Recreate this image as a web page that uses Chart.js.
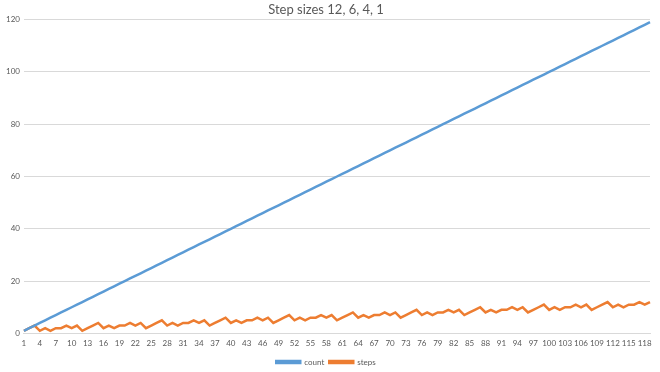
<!DOCTYPE html>
<html>
<head>
<meta charset="utf-8">
<script src="https://cdn.jsdelivr.net/npm/chart.js@4"></script>
<style>
  html, body { margin: 0; padding: 0; background: #fff; }
</style>
</head>
<body>
<canvas id="stepChart" width="660" height="372"></canvas>
<script>
// x categories (1..119)
const categories = [
  "1","2","3","4","5","6","7","8","9","10","11","12","13","14","15","16","17","18","19","20",
  "21","22","23","24","25","26","27","28","29","30","31","32","33","34","35","36","37","38","39","40",
  "41","42","43","44","45","46","47","48","49","50","51","52","53","54","55","56","57","58","59","60",
  "61","62","63","64","65","66","67","68","69","70","71","72","73","74","75","76","77","78","79","80",
  "81","82","83","84","85","86","87","88","89","90","91","92","93","94","95","96","97","98","99","100",
  "101","102","103","104","105","106","107","108","109","110","111","112","113","114","115","116","117","118","119"
];

// count series
const countValues = [
  1,2,3,4,5,6,7,8,9,10,11,12,13,14,15,16,17,18,19,20,
  21,22,23,24,25,26,27,28,29,30,31,32,33,34,35,36,37,38,39,40,
  41,42,43,44,45,46,47,48,49,50,51,52,53,54,55,56,57,58,59,60,
  61,62,63,64,65,66,67,68,69,70,71,72,73,74,75,76,77,78,79,80,
  81,82,83,84,85,86,87,88,89,90,91,92,93,94,95,96,97,98,99,100,
  101,102,103,104,105,106,107,108,109,110,111,112,113,114,115,116,117,118,119
];

// steps series
const stepValues = [
  1,2,3,1,2,1,2,2,3,2,3,
  1,2,3,4,2,3,2,3,3,4,3,4,
  2,3,4,5,3,4,3,4,4,5,4,5,
  3,4,5,6,4,5,4,5,5,6,5,6,
  4,5,6,7,5,6,5,6,6,7,6,7,
  5,6,7,8,6,7,6,7,7,8,7,8,
  6,7,8,9,7,8,7,8,8,9,8,9,
  7,8,9,10,8,9,8,9,9,10,9,10,
  8,9,10,11,9,10,9,10,10,11,10,11,
  9,10,11,12,10,11,10,11,11,12,11,12
];

const yTicks = [0, 20, 40, 60, 80, 100, 120];

const textGrey = "#595959";
const gridGrey = "#d9d9d9";

const ctx = document.getElementById("stepChart").getContext("2d");
new Chart(ctx, {
  type: "line",
  data: {
    labels: categories,
    datasets: [{
      label: "count",
      data: countValues,
      borderColor: "#5b9bd5",
      backgroundColor: "#5b9bd5",
      borderWidth: 2.5,
      pointRadius: 0,
      tension: 0
    }, {
      label: "steps",
      data: stepValues,
      borderColor: "#ed7d31",
      backgroundColor: "#ed7d31",
      borderWidth: 2.5,
      pointRadius: 0,
      tension: 0
    }]
  },
  options: {
    responsive: false,
    animation: false,
    layout: { padding: { left: 2, right: 10, top: 0, bottom: -4 } },
    plugins: {
      title: {
        display: true,
        text: "Step sizes 12, 6, 4, 1",
        color: textGrey,
        font: { family: "Lato", size: 13, weight: "normal" },
        padding: { top: 2, bottom: 2 }
      },
      legend: {
        position: "bottom",
        labels: {
          boxWidth: 24,
          boxHeight: 2,
          color: textGrey,
          font: { family: "Lato", size: 8 },
          padding: 5
        }
      },
      tooltip: { enabled: false }
    },
    scales: {
      x: {
        offset: false,
        grid: { display: false, drawTicks: false },
        border: { color: gridGrey },
        ticks: {
          autoSkip: false,
          maxRotation: 0,
          color: textGrey,
          font: { family: "Lato", size: 8 },
          padding: 5,
          callback: (v, i) => (i % 3 === 0 ? categories[i] : "")
        }
      },
      y: {
        min: yTicks[0],
        max: yTicks[yTicks.length - 1],
        afterBuildTicks: (axis) => { axis.ticks = yTicks.map(v => ({ value: v })); },
        grid: { color: gridGrey, drawTicks: false },
        border: { display: false },
        ticks: {
          color: textGrey,
          font: { family: "Lato", size: 8 },
          padding: 4
        }
      }
    }
  }
});
</script>
</body>
</html>
